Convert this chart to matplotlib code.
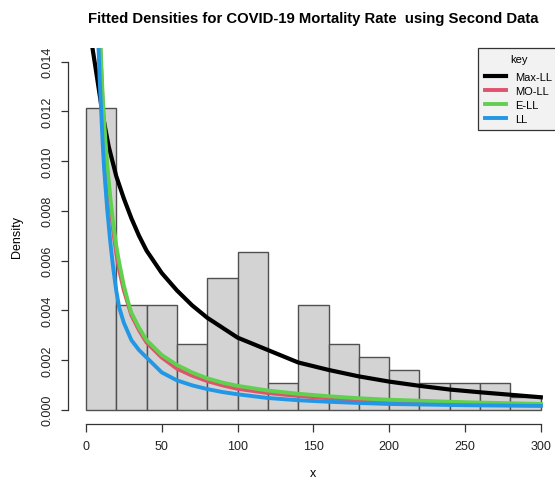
import matplotlib
matplotlib.use("Agg")
import matplotlib.pyplot as plt

plt.rcParams['font.family'] = ['Liberation Sans', 'DejaVu Sans']

# histogram of mortality rate (bin width 20, density scale)
bin_edges = [0, 20, 40, 60, 80, 100, 120, 140, 160, 180, 200, 220, 240, 260, 280, 300]
bin_density = [0.01213, 0.00421, 0.00421, 0.00264, 0.00529, 0.00633, 0.00106, 0.00421,
               0.00264, 0.00211, 0.00158, 0.00106, 0.00106, 0.00106, 0.00053]

# fitted density curves
maxll_x = [4.2, 6, 8, 10, 12.5, 15, 17.5, 20, 25, 30, 35, 40, 50, 60, 70, 80, 90, 100,
           120, 140, 160, 180, 200, 220, 240, 260, 280, 300]
maxll_y = [0.0146, 0.0139, 0.0131, 0.0123, 0.0114, 0.0106, 0.0100, 0.0094, 0.0085,
           0.0077, 0.0070, 0.0064, 0.0055, 0.0048, 0.0042, 0.0037, 0.0033, 0.0029,
           0.0024, 0.0019, 0.0016, 0.00134, 0.00113, 0.00096, 0.00081, 0.00070,
           0.00060, 0.00050]

moll_x = [9.5, 10, 11, 12, 14, 16, 18, 20, 22, 25, 28, 30, 35, 40, 50, 60, 70, 80, 90,
          100, 120, 140, 160, 180, 200, 250, 300]
moll_y = [0.0146, 0.0138, 0.0124, 0.0113, 0.0096, 0.0083, 0.0072, 0.0063, 0.0056,
          0.0048, 0.0042, 0.0038, 0.0032, 0.0027, 0.0021, 0.00165, 0.00137, 0.00115,
          0.00098, 0.00084, 0.00067, 0.00055, 0.00046, 0.00038, 0.00032, 0.00024,
          0.00019]

ell_x = [9.7, 10, 11, 12, 14, 16, 18, 20, 22, 25, 28, 30, 35, 40, 50, 60, 70, 80, 90,
         100, 120, 140, 160, 180, 200, 250, 300]
ell_y = [0.0146, 0.0141, 0.0127, 0.0116, 0.0099, 0.0086, 0.0075, 0.0066, 0.0059,
         0.0050, 0.0043, 0.0039, 0.0033, 0.0028, 0.0022, 0.0018, 0.0015, 0.00126,
         0.00109, 0.00096, 0.00077, 0.00064, 0.00054, 0.00046, 0.00040, 0.00030,
         0.00023]

ll_x = [8.3, 9, 10, 11, 12, 14, 16, 18, 20, 22, 25, 30, 35, 40, 50, 60, 70, 80, 90,
        100, 120, 140, 160, 180, 200, 250, 300]
ll_y = [0.0146, 0.0134, 0.0121, 0.0108, 0.0097, 0.0081, 0.0068, 0.0057, 0.0048,
        0.0041, 0.0035, 0.0028, 0.0024, 0.0021, 0.0015, 0.00118, 0.00098, 0.00083,
        0.00071, 0.00062, 0.00047, 0.00038, 0.00032, 0.00027, 0.00023, 0.00018,
        0.00015]

x_ticks = [0, 50, 100, 150, 200, 250, 300]
y_ticks = [0.000, 0.002, 0.004, 0.006, 0.008, 0.010, 0.012, 0.014]

fig = plt.figure(figsize=(5.55, 4.81), dpi=100)
ax = fig.add_axes([67.7 / 555, 56.4 / 481, 491.3 / 555, 375.8 / 481])

widths = [b - a for a, b in zip(bin_edges[:-1], bin_edges[1:])]
ax.bar(bin_edges[:-1], bin_density, width=widths, align='edge',
       color='#d3d3d3', edgecolor='#505050', linewidth=1.0)

ax.plot(maxll_x, maxll_y, color='black', lw=3.0, label='Max-LL')
ax.plot(moll_x, moll_y, color='#DF536B', lw=2.8, label='MO-LL')
ax.plot(ell_x, ell_y, color='#61D04F', lw=2.8, label='E-LL')
ax.plot(ll_x, ll_y, color='#2297E6', lw=2.8, label='LL')

ax.set_xlim(-12, 312)
ax.set_ylim(-0.00056, 0.01456)

for side in ['top', 'right']:
    ax.spines[side].set_visible(False)
ax.spines['left'].set_bounds(0, 0.014)
ax.spines['bottom'].set_bounds(0, 300)
for side in ['left', 'bottom']:
    ax.spines[side].set_color('#333333')
    ax.spines[side].set_linewidth(0.9)

ax.set_xticks(x_ticks)
ax.set_xticklabels([str(v) for v in x_ticks])
ax.set_yticks(y_ticks)
ax.set_yticklabels(['%.3f' % v for v in y_ticks], rotation=90, va='center')
ax.tick_params(axis='both', length=5.4, width=0.9, color='#333333',
               labelsize=9, labelcolor='#222222')
ax.tick_params(axis='x', pad=6.5)
ax.tick_params(axis='y', pad=5)

fig.text(313 / 555, 1 - 19 / 481,
         'Fitted Densities for COVID-19 Mortality Rate  using Second Data',
         ha='center', va='center', fontsize=10.7, fontweight='bold')
fig.text(313 / 555, 0.5 / 481, 'x', ha='center', va='bottom', fontsize=9)
fig.text(17 / 555, 1 - 236.7 / 481, 'Density', ha='center', va='center',
         rotation=90, fontsize=9)

leg = ax.legend(title='key', loc='upper right', bbox_to_anchor=(1, 1),
                borderaxespad=0, fontsize=8, title_fontsize=8, frameon=True,
                fancybox=False, handlelength=1.95, handletextpad=0.8,
                labelspacing=0.35, borderpad=0.6)
leg._legend_box.sep = 5.5
leg.get_frame().set_facecolor('#f2f2f2')
leg.get_frame().set_edgecolor('#333333')
leg.get_frame().set_linewidth(0.9)
leg.get_frame().set_alpha(1)

fig.savefig('out.png', dpi=100)
